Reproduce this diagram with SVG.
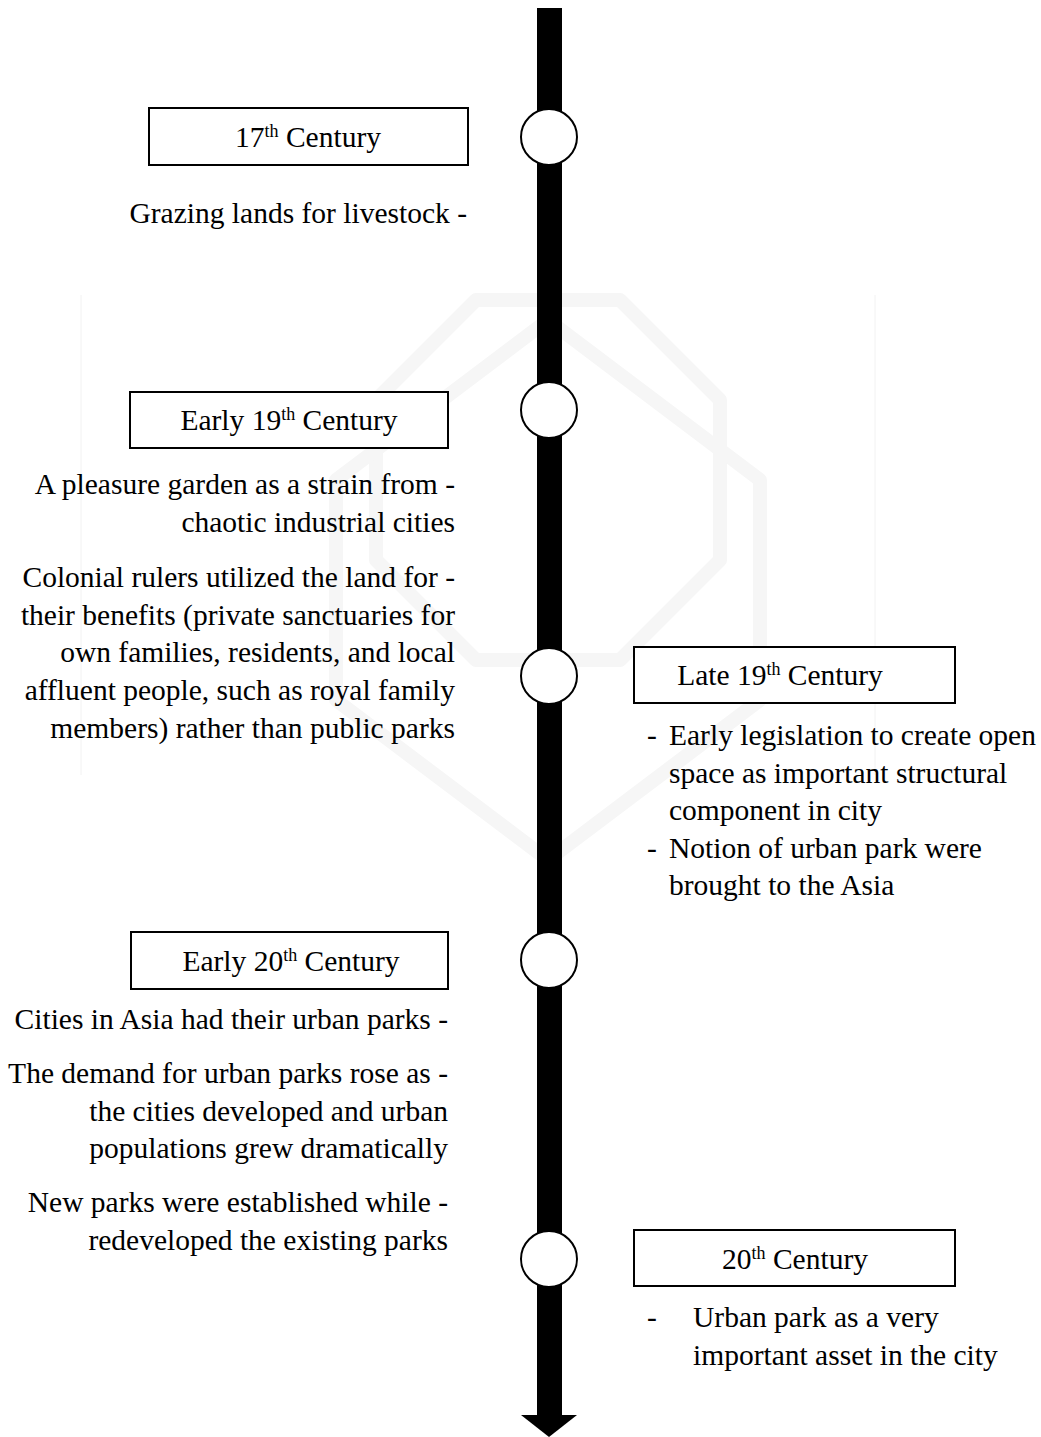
<svg xmlns="http://www.w3.org/2000/svg" width="1041" height="1437" viewBox="0 0 1041 1437">
<style>
text{font-family:"Liberation Serif","Times New Roman",serif;font-size:29.5px;fill:#000}
.box{fill:#fff;stroke:#000;stroke-width:2}
.dot{fill:#fff;stroke:#000;stroke-width:2}
.sup{font-size:18px}
.l{text-anchor:end}
.c{text-anchor:middle}
.wm{fill:none;stroke:#f6f6f6;stroke-width:14;stroke-linejoin:round}
</style>
<g id="watermark">
<line x1="81" y1="295" x2="81" y2="775" stroke="#f2f2f2" stroke-width="1"/>
<line x1="875" y1="295" x2="875" y2="775" stroke="#f2f2f2" stroke-width="1"/>
<polygon class="wm" points="476,300 620,300 720,400 720,560 620,660 476,660 376,560 376,400"/>
<polygon class="wm" points="548,320 760,480 760,700 548,860 336,700 336,480"/>
</g>
<g id="connectors">
<rect x="537" y="8" width="25" height="1410" fill="#000"/>
<polygon points="521,1415 577,1415 549,1437" fill="#000"/>
</g>
<g id="dot1"><circle class="dot" cx="549" cy="137" r="28"/></g>
<g id="dot2"><circle class="dot" cx="549" cy="410" r="28"/></g>
<g id="dot3"><circle class="dot" cx="549" cy="676" r="28"/></g>
<g id="dot4"><circle class="dot" cx="549" cy="960" r="28"/></g>
<g id="dot5"><circle class="dot" cx="549" cy="1259" r="28"/></g>
<g id="n17">
<rect class="box" x="149" y="108" width="319" height="57"/>
<text class="c" x="308" y="147">17<tspan class="sup" dy="-10">th</tspan><tspan dy="10"> Century</tspan></text>
<text class="l" x="467" y="223">Grazing lands for livestock -</text>
</g>
<g id="nEarly19">
<rect class="box" x="130" y="392" width="318" height="56"/>
<text class="c" x="289" y="430">Early 19<tspan class="sup" dy="-10">th</tspan><tspan dy="10"> Century</tspan></text>
<text class="l" x="455" y="494">A pleasure garden as a strain from -</text>
<text class="l" x="455" y="532">chaotic industrial cities</text>
<text class="l" x="455" y="587">Colonial rulers utilized the land for -</text>
<text class="l" x="455" y="625">their benefits (private sanctuaries for</text>
<text class="l" x="455" y="662">own families, residents, and local</text>
<text class="l" x="455" y="700">affluent people, such as royal family</text>
<text class="l" x="455" y="738">members) rather than public parks</text>
</g>
<g id="nLate19">
<rect class="box" x="634" y="647" width="321" height="56"/>
<text class="c" x="780" y="685">Late 19<tspan class="sup" dy="-10">th</tspan><tspan dy="10"> Century</tspan></text>
<text x="647" y="745">-</text>
<text x="669" y="745">Early legislation to create open</text>
<text x="669" y="783">space as important structural</text>
<text x="669" y="820">component in city</text>
<text x="647" y="858">-</text>
<text x="669" y="858">Notion of urban park were</text>
<text x="669" y="895">brought to the Asia</text>
</g>
<g id="nEarly20">
<rect class="box" x="131" y="932" width="317" height="57"/>
<text class="c" x="291" y="971">Early 20<tspan class="sup" dy="-10">th</tspan><tspan dy="10"> Century</tspan></text>
<text class="l" x="448" y="1029">Cities in Asia had their urban parks -</text>
<text class="l" x="448" y="1083">The demand for urban parks rose as -</text>
<text class="l" x="448" y="1121">the cities developed and urban</text>
<text class="l" x="448" y="1158">populations grew dramatically</text>
<text class="l" x="448" y="1212">New parks were established while -</text>
<text class="l" x="448" y="1250">redeveloped the existing parks</text>
</g>
<g id="n20">
<rect class="box" x="634" y="1230" width="321" height="56"/>
<text class="c" x="795" y="1269">20<tspan class="sup" dy="-10">th</tspan><tspan dy="10"> Century</tspan></text>
<text x="647" y="1327">-</text>
<text x="693" y="1327">Urban park as a very</text>
<text x="693" y="1365">important asset in the city</text>
</g>
</svg>
